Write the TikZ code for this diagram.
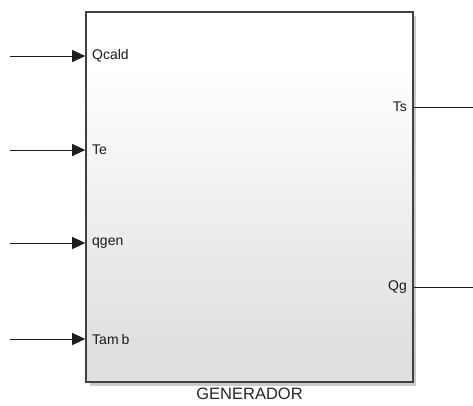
\documentclass[tikz,border=0pt]{standalone}
\usepackage{fontspec}
\setmainfont{Liberation Sans}
\usetikzlibrary{arrows.meta}
\definecolor{blockedge}{RGB}{64,64,64}
\definecolor{blockbot}{RGB}{216,216,216}
\definecolor{wirecol}{RGB}{30,30,30}
\pgfdeclareverticalshading{blockfill}{100bp}{color(0bp)=(blockbot); color(30bp)=(blockbot!80!white); color(68bp)=(white); color(100bp)=(white)}
\tikzset{
  block/.style={draw=blockedge, line width=1.6pt, shading=blockfill,
    minimum width=327pt, minimum height=370pt, inner sep=0pt},
  wire/.style={draw=wirecol, line width=1pt},
  inwire/.style={wire, -{Triangle[length=13pt,width=12pt]}},
  portlabel/.style={font=\fontsize{14}{14}\selectfont, text=black!90, inner sep=0pt},
  blockname/.style={font=\fontsize{16.5}{16.5}\selectfont, text=black!85, inner sep=0pt}
}
\begin{document}
\begin{tikzpicture}[x=1pt, y=-1pt]
  \useasboundingbox (0,0) rectangle (473,405);
  % drop shadow of the block
  \fill[black!35, opacity=0.6] (89.5,15.5) rectangle (416,385.5);
  % the subsystem block
  \node[block] (gen) at (249.5,197) {};
  \node[blockname] (genname) at (249.5,394) {GENERADOR};
  % input signals
  \coordinate (qcaldsrc) at (10,56);
  \coordinate (tesrc) at (10,150);
  \coordinate (qgensrc) at (10,243);
  \coordinate (tambsrc) at (10,339);
  \draw[inwire] (qcaldsrc) -- (qcaldsrc -| gen.west);
  \draw[inwire] (tesrc) -- (tesrc -| gen.west);
  \draw[inwire] (qgensrc) -- (qgensrc -| gen.west);
  \draw[inwire] (tambsrc) -- (tambsrc -| gen.west);
  \node[portlabel, anchor=west] (lqcald) at (92,56) {Qcald};
  \node[portlabel, anchor=west] (lte) at (92,150) {Te};
  \node[portlabel, anchor=west] (lqgen) at (92,243) {qgen};
  \node[portlabel, anchor=west] (ltamb) at (92,339) {Tam\hspace{3pt}b};
  % output signals
  \coordinate (tsdst) at (473,107);
  \coordinate (qgdst) at (473,287);
  \draw[wire] (tsdst -| gen.east) -- (tsdst);
  \draw[wire] (qgdst -| gen.east) -- (qgdst);
  \node[portlabel, anchor=east] (lts) at (407,107) {Ts};
  \node[portlabel, anchor=east] (lqg) at (407,287) {Qg};
\end{tikzpicture}
\end{document}
